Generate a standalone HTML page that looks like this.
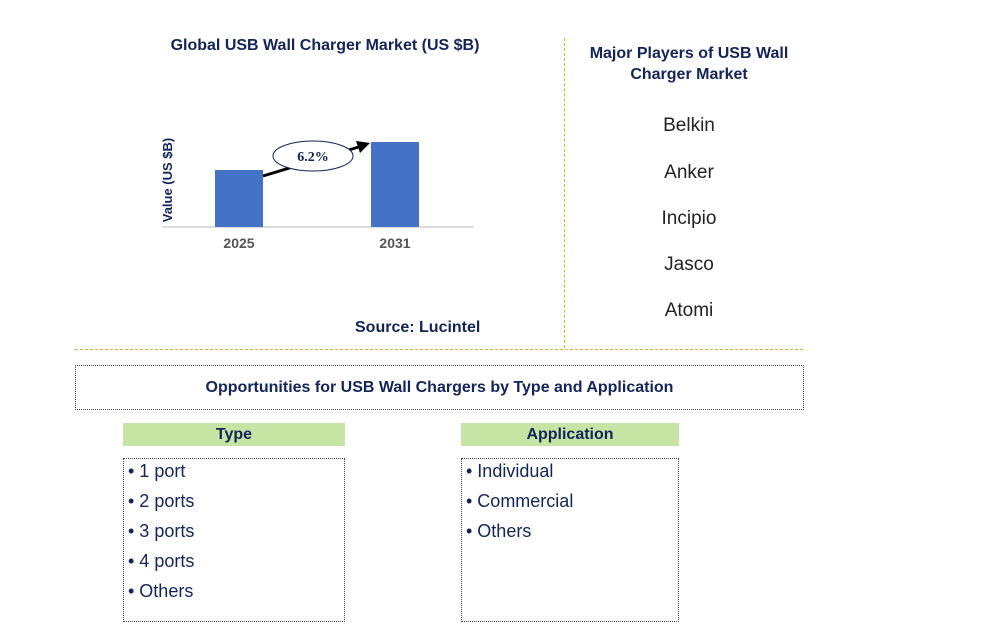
<!DOCTYPE html>
<html><head><meta charset="utf-8"><style>
body{margin:0;width:996px;height:642px;background:#fff;font-family:"Liberation Sans",Arial,sans-serif;position:relative;overflow:hidden}
.a{position:absolute}
.t{color:#13245a;font-weight:bold}
.item{position:absolute;font-size:19px;color:#222;width:240px;text-align:center}
.box{position:absolute;border:1px dotted #444}
.hdr{position:absolute;background:#c6e4a4;color:#13245a;font-weight:bold;font-size:16px;text-align:center;line-height:23px}
.li{font-size:18px;color:#13245a;line-height:30px}
</style></head><body>
<div class="a t" style="left:150px;top:37px;width:350px;text-align:center;font-size:16px">Global USB Wall Charger Market (US $B)</div>
<svg class="a" style="left:0;top:0" width="560" height="340">
<text transform="translate(172,180) rotate(-90)" text-anchor="middle" font-size="13" font-weight="bold" fill="#13245a" font-family="Liberation Sans">Value (US $B)</text>
<line x1="162" y1="227" x2="474" y2="227" stroke="#d0d0d0" stroke-width="1.5"/>
<g id="bars"></g>
<line x1="263" y1="176" x2="362" y2="146" stroke="#000" stroke-width="3"/>
<polygon points="370,143 356,141 360,153" fill="#000"/>
<ellipse cx="313" cy="156" rx="40" ry="15" fill="#fff" stroke="#13245a"/>
<text x="313" y="161" text-anchor="middle" font-size="14" font-weight="bold" fill="#13245a" font-family="Liberation Serif">6.2%</text>
</svg>
<div class="a t" style="left:355px;top:319px;font-size:16px">Source: Lucintel</div>
<div class="a" style="left:564px;top:38px;height:310px;border-left:1px dashed #e0b020"></div>
<div class="a" style="left:75px;top:349px;width:728px;border-top:1px dashed #e0b020"></div>
<div class="a t" style="left:569px;top:43px;width:240px;text-align:center;font-size:16px;line-height:21px">Major Players of USB Wall<br>Charger Market</div>
<div class="item" style="left:569px;top:115px">Belkin</div>
<div class="item" style="left:569px;top:162px">Anker</div>
<div class="item" style="left:569px;top:208px">Incipio</div>
<div class="item" style="left:569px;top:254px">Jasco</div>
<div class="item" style="left:569px;top:300px">Atomi</div>
<div class="box t" style="left:75px;top:365px;width:727px;height:43px;line-height:43px;text-align:center;font-size:16px">Opportunities for USB Wall Chargers by Type and Application</div>
<div class="hdr" style="left:123px;top:423px;width:222px">Type</div>
<div class="box" style="left:123px;top:458px;width:222px;height:164px;padding:0 4px;box-sizing:border-box">
<div class="li" style="margin-top:-3px">• 1 port</div><div class="li">• 2 ports</div><div class="li">• 3 ports</div><div class="li">• 4 ports</div><div class="li">• Others</div></div>
<div class="hdr" style="left:461px;top:423px;width:218px">Application</div>
<div class="box" style="left:461px;top:458px;width:218px;height:164px;padding:0 4px;box-sizing:border-box">
<div class="li" style="margin-top:-3px">• Individual</div><div class="li">• Commercial</div><div class="li">• Others</div></div>
<script>
const categories=["2025","2031"];
const values=[5.7,8.5];
const g=document.getElementById('bars');
const ns="http://www.w3.org/2000/svg";
const base=227, scale=10;
const xc=c=>[239,395][c];
categories.forEach((c,i)=>{
const r=document.createElementNS(ns,'rect');
const h=values[i]*scale;
r.setAttribute('x',xc(i)-24);r.setAttribute('y',base-h);r.setAttribute('width',48);r.setAttribute('height',h);r.setAttribute('fill','#4472c4');


g.appendChild(r);
const t=document.createElementNS(ns,'text');
t.setAttribute('x',xc(i));t.setAttribute('y',248);t.setAttribute('text-anchor','middle');t.setAttribute('font-size','14');t.setAttribute('font-weight','bold');t.setAttribute('fill','#555');t.setAttribute('font-family','Liberation Sans');
t.textContent=c;


g.appendChild(t);
});
</script>
</body></html>
